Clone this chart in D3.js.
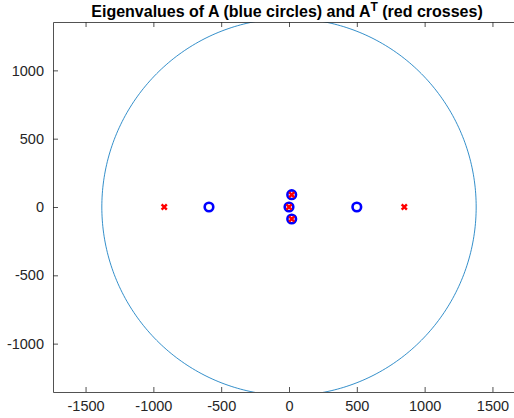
<!DOCTYPE html>
<html>
<head>
<meta charset="utf-8">
<script src="https://cdn.jsdelivr.net/npm/d3@7"></script>
<style>
    body { margin: 0; background: #fff; }
    svg { display: block; font-family: "Liberation Sans", Arial, sans-serif; }
</style>
</head>
<body>
<svg width="514" height="418"></svg>
<script>
// eigenvalues of A (blue circles)
var eigA_re = [-590, 0, 20, 20, 500],
    eigA_im = [0, 0, 90, -88, 0];
// eigenvalues of A^T (red crosses)
var eigAT_re = [-920, 0, 20, 20, 850],
    eigAT_im = [0, 0, 90, -88, 0];
var circleRadius = 1380;
var xTicks = [-1500, -1000, -500, 0, 500, 1000, 1500],
    yTicks = [-1000, -500, 0, 500, 1000];

var svg = d3.select("svg"),
    pLeft = 53, pRight = 525, pTop = 22, pBottom = 392,
    x = d3.scaleLinear().domain([-1740, 1740]).range([pLeft, pRight]),
    y = d3.scaleLinear().domain([-1354, 1354]).range([pBottom, pTop]),
    axisColor = "#262626",
    fmt = function(d) { return String(d); };

svg.append("defs").append("clipPath").attr("id", "plotclip")
    .append("rect")
        .attr("x", pLeft).attr("y", pTop)
        .attr("width", pRight - pLeft).attr("height", pBottom - pTop);

var plot = svg.append("g").attr("clip-path", "url(#plotclip)");

// circle of radius circleRadius drawn as a line
var angles = d3.range(0, 361, 1);
var circleLine = d3.line()
    .x(function(a) { return x(circleRadius * Math.cos(a * Math.PI / 180)); })
    .y(function(a) { return y(circleRadius * Math.sin(a * Math.PI / 180)); });

plot.append("path")
    .datum(angles)
    .attr("fill", "none")
    .attr("stroke", "#0072BD")
    .attr("stroke-width", 0.8)
    .attr("d", circleLine);

// blue circles
plot.selectAll(".eigA")
    .data(eigA_re)
    .enter().append("circle")
        .attr("class", "eigA")
        .attr("cx", function(d) { return x(d); })
        .attr("cy", function(d, i) { return y(eigA_im[i]); })
        .attr("r", 4.3)
        .attr("fill", "none")
        .attr("stroke", "#0000ff")
        .attr("stroke-width", 2.6);

// red crosses
var s = 2.6;
plot.selectAll(".eigAT")
    .data(eigAT_re)
    .enter().append("path")
        .attr("class", "eigAT")
        .attr("transform", function(d, i) { return "translate(" + x(d) + "," + y(eigAT_im[i]) + ")"; })
        .attr("d", "M" + (-s) + "," + (-s) + "L" + s + "," + s + "M" + (-s) + "," + s + "L" + s + "," + (-s))
        .attr("stroke", "#ff0000")
        .attr("stroke-width", 2.4)
        .attr("fill", "none");

// axes
var xAxis = svg.append("g")
    .attr("transform", "translate(0," + pBottom + ")")
    .call(d3.axisBottom(x).tickValues(xTicks).tickFormat(fmt).tickSizeInner(-5).tickSizeOuter(0).tickPadding(9));
var xAxisTop = svg.append("g")
    .attr("transform", "translate(0," + pTop + ")")
    .call(d3.axisTop(x).tickValues(xTicks).tickSizeInner(-5).tickSizeOuter(0).tickFormat(""));
var yAxis = svg.append("g")
    .attr("transform", "translate(" + pLeft + ",0)")
    .call(d3.axisLeft(y).tickValues(yTicks).tickFormat(fmt).tickSizeInner(-5).tickSizeOuter(0).tickPadding(9));

[xAxis, xAxisTop, yAxis].forEach(function(a) {
    a.select(".domain").attr("stroke", axisColor).attr("stroke-width", 0.8);
    a.selectAll(".tick line").attr("stroke", axisColor).attr("stroke-width", 0.8);
    a.selectAll(".tick text")
        .attr("fill", axisColor)
        .style("font-size", "14.5px")
        .style("font-family", "Liberation Sans, Arial, sans-serif");
});

// title
var title = svg.append("text")
    .attr("x", 287)
    .attr("y", 17)
    .attr("text-anchor", "middle")
    .attr("fill", "#000")
    .style("font-size", "16px")
    .style("font-weight", "bold");
title.append("tspan").text("Eigenvalues of A (blue circles) and A");
title.append("tspan").attr("dy", -6).style("font-size", "12px").text("T");
title.append("tspan").attr("dy", 6).text(" (red crosses)");
</script>
</body>
</html>
